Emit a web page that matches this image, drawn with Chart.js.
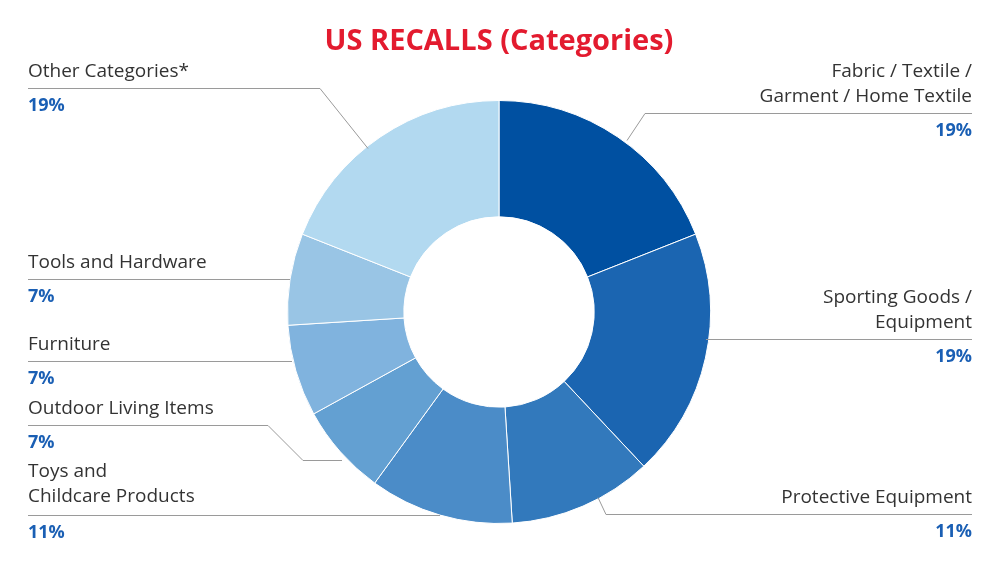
<!DOCTYPE html>
<html><head><meta charset="utf-8">
<script src="https://cdn.jsdelivr.net/npm/chart.js@4"></script>
<style>html,body{margin:0;padding:0;background:#fff}canvas{display:block}</style>
</head><body>
<canvas id="c" width="1000" height="567"></canvas>
<script>
const categories = ["Fabric / Textile / Garment / Home Textile","Sporting Goods / Equipment","Protective Equipment","Toys and Childcare Products","Outdoor Living Items","Furniture","Tools and Hardware","Other Categories*"];
const values = [19,19,11,11,7,7,7,19];
const colors = ["#0050a1","#1b65b1","#3279bc","#4b8cc8","#63a0d2","#80b3de","#99c5e5","#b2d9f0"];

// label layout: lines of text, anchor x, first baseline, side, leader path
const labelLayout = [
  {lines:["Fabric / Textile /","Garment / Home Textile"], x:972, y:72, align:"right", pct:"19%", path:[[972,113],[645,113],[627,140]]},
  {lines:["Sporting Goods /","Equipment"], x:972, y:298, align:"right", pct:"19%", path:[[972,339],[706,339]]},
  {lines:["Protective Equipment"], x:972, y:498, align:"right", pct:"11%", path:[[972,514],[606,514],[598,497]]},
  {lines:["Toys and","Childcare Products"], x:28, y:472, align:"left", pct:"11%", path:[[28,515],[440,515]]},
  {lines:["Outdoor Living Items"], x:28, y:409, align:"left", pct:"7%", path:[[28,425],[268,425],[303,460],[342,460]]},
  {lines:["Furniture"], x:28, y:345, align:"left", pct:"7%", path:[[28,361],[292,361]]},
  {lines:["Tools and Hardware"], x:28, y:263, align:"left", pct:"7%", path:[[28,279],[290,279]]},
  {lines:["Other Categories*"], x:28, y:72, align:"left", pct:"19%", path:[[28,88],[320,88],[368,148]]}
];

const labelPlugin = {
  id:'labels',
  afterDraw(chart){
    const ctx = chart.ctx;
    ctx.save();
    ctx.fillStyle="#e31b2f";
    ctx.font="bold 29px 'Open Sans', sans-serif";
    ctx.textAlign="center"; ctx.textBaseline="middle";
    ctx.fillText("US RECALLS (Categories)",499,42);
    labelLayout.forEach((l,i)=>{
      ctx.strokeStyle="#9a9a9a"; ctx.lineWidth=1;
      ctx.beginPath();
      l.path.forEach((p,j)=> j?ctx.lineTo(p[0],p[1]+0.5):ctx.moveTo(p[0],p[1]+0.5));
      ctx.stroke();
      ctx.textAlign=l.align; ctx.textBaseline="middle";
      ctx.fillStyle="#333";
      ctx.font="19px 'Open Sans', sans-serif";
      l.lines.forEach((t,k)=>ctx.fillText(t,l.x,l.y+k*25));
      ctx.fillStyle="#1a5fb4";
      ctx.font="bold 18px 'Open Sans', sans-serif";
      ctx.fillText(values[i]+"%",l.x,l.path[0][1]+18);
    });
    ctx.restore();
  }
};

new Chart(document.getElementById('c'),{
  type:'doughnut',
  data:{labels:categories,datasets:[{data:values,backgroundColor:colors,borderColor:"#fff",borderWidth:1}]},
  options:{
    responsive:false,animation:false,cutout:"45%",
    layout:{padding:{left:287,right:289,top:100,bottom:43}},
    plugins:{legend:{display:false},tooltip:{enabled:false}}
  },
  plugins:[labelPlugin]
});
</script>
</body></html>
